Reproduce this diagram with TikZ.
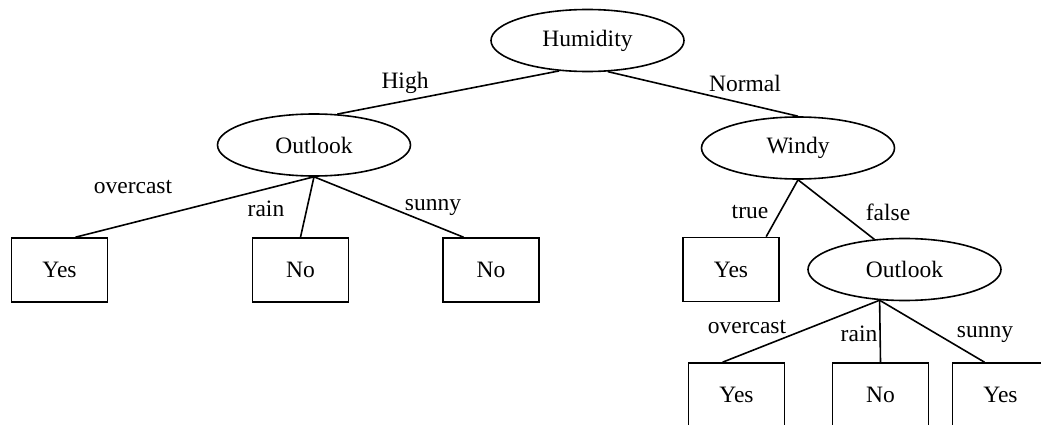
\documentclass[tikz,border=0pt]{standalone}
\usepackage{fontspec}
\setmainfont{Liberation Serif}
\usetikzlibrary{shapes.geometric}

\tikzset{
	attr/.style={draw, ellipse, line width=1.6pt, minimum width=193pt, minimum height=62pt, inner sep=0pt},
	leaf/.style={draw, rectangle, line width=1.6pt, minimum width=96pt, minimum height=64pt, inner sep=0pt},
	branch/.style={inner sep=0pt},
	edge/.style={line width=1.6pt}
}

\begin{document}
\begin{tikzpicture}[x=1pt, y=-1pt, every node/.style={font=\fontsize{23.5}{28}\selectfont}]
			\useasboundingbox (0,0) rectangle (1041,425);
			
			% inner nodes
			\node[attr] (hum) at (587.5,40.5) {Humidity};
			\node[attr] (out1) at (314,145) {Outlook};
			\node[attr] (wind) at (798,148) {Windy};
			\node[attr] (out2) at (904.5,269.5) {Outlook};
			
			% leaves
			\node[leaf] (yes1) at (59.5,270) {Yes};
			\node[leaf] (no1) at (300.5,270) {No};
			\node[leaf] (no2) at (491,270) {No};
			\node[leaf] (yes2) at (731,269.5) {Yes};
			\node[leaf] (yes3) at (736.5,395) {Yes};
			\node[leaf] (no3) at (880.5,395) {No};
			\node[leaf] (yes4) at (1000.5,395) {Yes};
			
			% branches
			\draw[edge] (hum.227) -- (out1.53);
			\draw[edge] (hum.303) -- (wind.north);
			\draw[edge] (out1.south) -- (yes1.64);
			\draw[edge] (out1.south) -- (no1.north);
			\draw[edge] (out1.south) -- (no2.130);
			\draw[edge] (wind.south) -- (yes2.43);
			\draw[edge] (wind.south) -- (out2.135);
			\draw[edge] (out2.231) -- (yes3.113);
			\draw[edge] (out2.231) -- (no3.north);
			\draw[edge] (out2.231) -- (yes4.116);
			
			% branch labels
			\node[branch] (lhigh) at (405,83) {High};
			\node[branch] (lnormal) at (745,83) {Normal};
			\node[branch] (lover1) at (133,187) {overcast};
			\node[branch] (lrain1) at (266,209) {rain};
			\node[branch] (lsunny1) at (433,207) {sunny};
			\node[branch] (ltrue) at (750,212) {true};
			\node[branch] (lfalse) at (888,212) {false};
			\node[branch] (lover2) at (747,327) {overcast};
			\node[branch] (lrain2) at (859,334) {rain};
			\node[branch] (lsunny2) at (985,334) {sunny};
\end{tikzpicture}
\end{document}
